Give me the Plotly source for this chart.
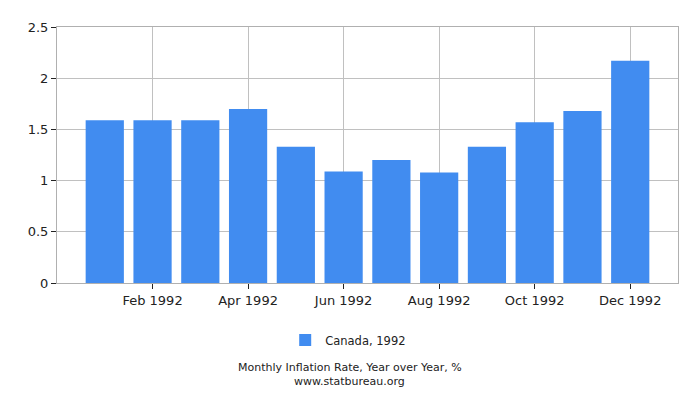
import plotly.graph_objects as go

# Monthly inflation rate, Canada 1992 (year over year, %)
months = ["Jan 1992", "Feb 1992", "Mar 1992", "Apr 1992", "May 1992", "Jun 1992",
          "Jul 1992", "Aug 1992", "Sep 1992", "Oct 1992", "Nov 1992", "Dec 1992"]
rates = [1.59, 1.59, 1.59, 1.70, 1.33, 1.09, 1.20, 1.08, 1.33, 1.57, 1.68, 2.17]
y_ticks = [0, 0.5, 1, 1.5, 2, 2.5]
y_labels = ["0", "0.5", "1", "1.5", "2", "2.5"]

pos = list(range(len(months)))
shown = pos[1::2]

fig = go.Figure(go.Bar(
    x=pos,
    y=rates,
    width=0.8,
    name="Canada, 1992",
    marker=dict(color="#418cf0", line=dict(width=0)),
    hovertext=months,
))

# the page adds an 8px body margin, so margins are trimmed to compensate
fig.update_layout(
    width=700,
    height=400,
    margin=dict(l=49, r=30, t=14, b=125),
    paper_bgcolor="white",
    plot_bgcolor="white",
    font=dict(family="DejaVu Sans", size=13, color="#222222"),
    showlegend=True,
    legend=dict(
        orientation="h",
        xref="container", yref="container",
        x=0.486, xanchor="center",
        y=0.17, yanchor="middle",
        font=dict(size=11.5),
        itemwidth=30,
    ),
    xaxis=dict(
        range=[-1, 12],
        tickvals=shown,
        ticktext=[months[i] for i in shown],
        showgrid=True, gridcolor="#c0c0c0",
        showline=True, linecolor="#b0b0b0", mirror=True,
        ticks="outside", ticklen=5, tickcolor="#222222",
        zeroline=False,
    ),
    yaxis=dict(
        range=[0, 2.5],
        tickvals=y_ticks,
        ticktext=y_labels,
        showgrid=True, gridcolor="#c0c0c0",
        showline=True, linecolor="#b0b0b0", mirror=True,
        ticks="outside", ticklen=5, tickcolor="#222222",
        zeroline=False,
    ),
    annotations=[
        dict(text="Monthly Inflation Rate, Year over Year, %", xref="paper", yref="paper",
             x=0.4718, y=-0.3295, showarrow=False, font=dict(size=11),
             xanchor="center", yanchor="middle"),
        dict(text="www.statbureau.org", xref="paper", yref="paper",
             x=0.4718, y=-0.383, showarrow=False, font=dict(size=11),
             xanchor="center", yanchor="middle"),
    ],
)

fig.write_html("out.html")
